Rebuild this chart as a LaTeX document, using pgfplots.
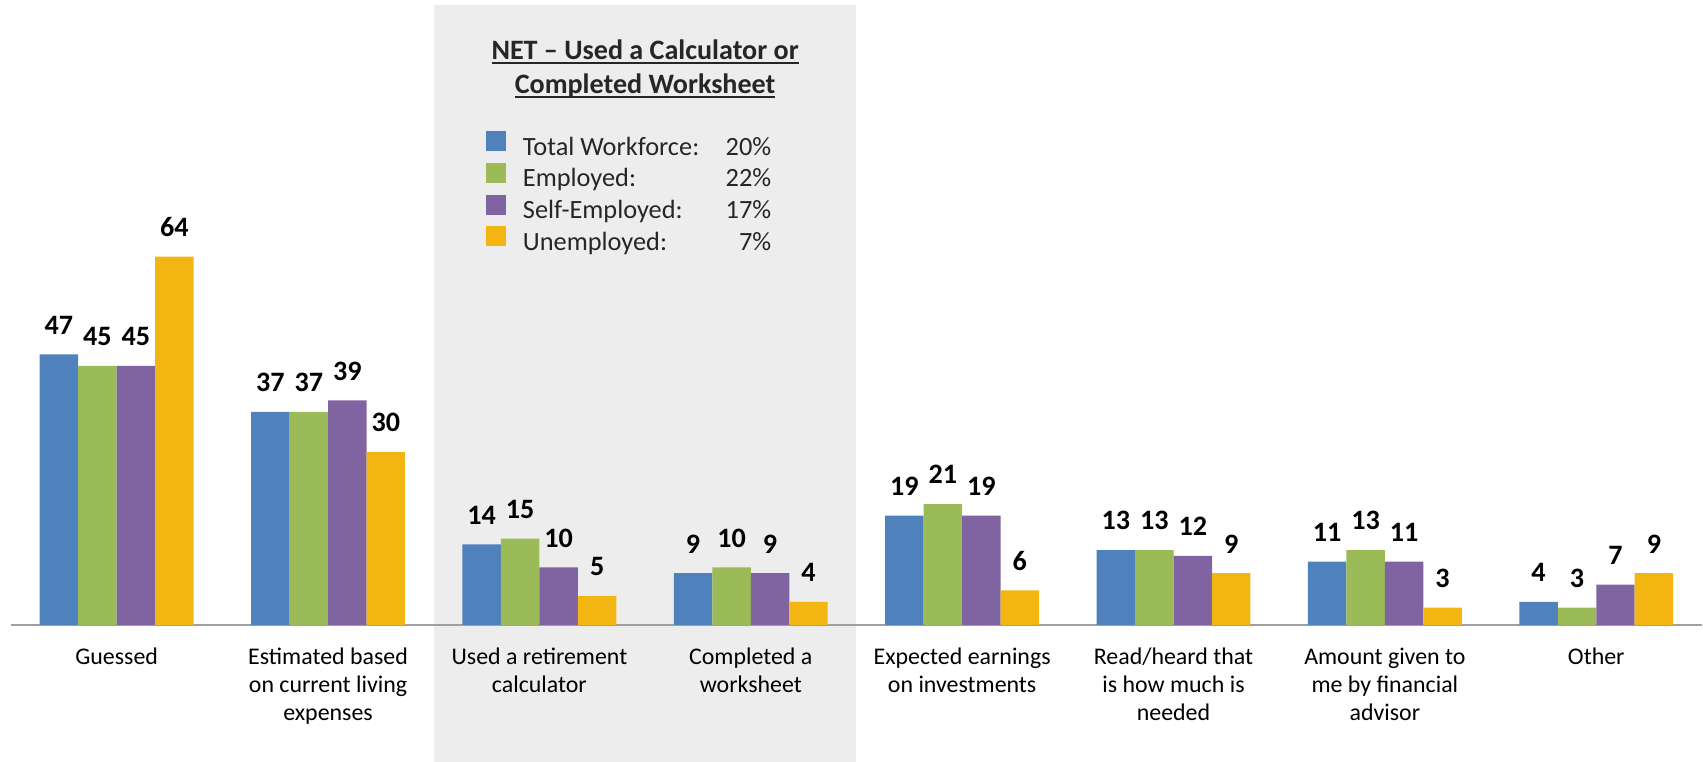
\documentclass[border=0pt]{standalone}
\usepackage{fontspec}
\setmainfont{Carlito}
\usepackage{pgfplots}
\pgfplotsset{compat=1.18}

\definecolor{cTot}{HTML}{4F81BD}
\definecolor{cEmp}{HTML}{9BBB59}
\definecolor{cSelf}{HTML}{8064A2}
\definecolor{cUnemp}{HTML}{F3B512}
\definecolor{netshade}{HTML}{EDEDED}
\definecolor{baseclr}{HTML}{A0A0A0}
\definecolor{legtext}{HTML}{262626}

% underline at a fixed depth
\newcommand\ul[1]{\setbox0\hbox{#1}\rlap{\rule[-1.25pt]{\wd0}{0.5pt}}\box0}

\begin{document}
\begin{tikzpicture}
\begin{axis}[
  set layers,
  scale only axis,
  width=16.92cm, height=6.203cm,
  xmin=-0.5, xmax=7.5, ymin=0, ymax=107.7,
  clip=false,
  ybar=0pt, bar width=0.385cm,
  axis x line*=bottom, axis y line=none,
  x axis line style={draw=baseclr, line width=0.6pt},
  xtick={0,...,7}, major tick length=0pt,
  xticklabels={
    {\strut Guessed},
    {\strut Estimated based\\on current living\\expenses},
    {\strut Used a retirement\\calculator},
    {\strut Completed a\\worksheet},
    {\strut Expected earnings\\on investments},
    {\strut Read/heard that\\is how much is\\needed},
    {\strut Amount given to\\me by financial\\advisor},
    {\strut Other}},
  xticklabel style={font=\fontsize{6.8}{7.9}\selectfont, align=center,
    anchor=north, inner sep=0pt, yshift=-0.196cm},
  /pgf/number format/assume math mode=true,
  nodes near coords,
  every node near coord/.append style={
    font=\bfseries\fontsize{8}{9.6}\selectfont,
    anchor=south, inner sep=0pt, yshift=0.194cm, text=black},
  legend style={at={(0.2807,0.7965)}, anchor=north west,
    draw=none, fill=none, inner sep=0pt, outer sep=0pt,
    row sep=-0.55pt, column sep=4.92pt, text=legtext,
    font=\fontsize{7.5}{9}\selectfont,
    nodes={inner sep=0pt, outer sep=0pt, text height=6pt, text depth=2.74pt}},
  legend cell align=left,
  legend image code/.code={\fill[#1,draw=none] (0pt,-0.5pt) rectangle (5.69pt,5.2pt);},
]

\begin{pgfonlayer}{axis background}
  \fill[netshade] (axis cs:1.5,-23.73) rectangle (axis cs:3.5,107.7);
\end{pgfonlayer}
\path (axis cs:-0.552,108.57);

\node[font=\bfseries\fontsize{8}{9.6}\selectfont, text=legtext, anchor=base]
  at (axis cs:2.5,98.26) {\ul{NET – Used a Calculator or}};
\node[font=\bfseries\fontsize{8}{9.6}\selectfont, text=legtext, anchor=base]
  at (axis cs:2.5,92.36) {\ul{Completed Worksheet}};

\addplot[fill=cTot, draw=none] coordinates {
  (0,47) (1,37) (2,14) (3,9) (4,19) (5,13) (6,11) (7,4)};
\addlegendentry{\hbox to 70.7pt{Total Workforce:\hfill 20\%}}
\addplot[fill=cEmp, draw=none] coordinates {
  (0,45) (1,37) (2,15) (3,10) (4,21) (5,13) (6,13) (7,3)};
\addlegendentry{\hbox to 70.7pt{Employed:\hfill 22\%}}
\addplot[fill=cSelf, draw=none] coordinates {
  (0,45) (1,39) (2,10) (3,9) (4,19) (5,12) (6,11) (7,7)};
\addlegendentry{\hbox to 70.7pt{Self-Employed:\hfill 17\%}}
\addplot[fill=cUnemp, draw=none] coordinates {
  (0,64) (1,30) (2,5) (3,4) (4,6) (5,9) (6,3) (7,9)};
\addlegendentry{\hbox to 70.7pt{Unemployed:\hfill 7\%}}

\end{axis}
\end{tikzpicture}
\end{document}
